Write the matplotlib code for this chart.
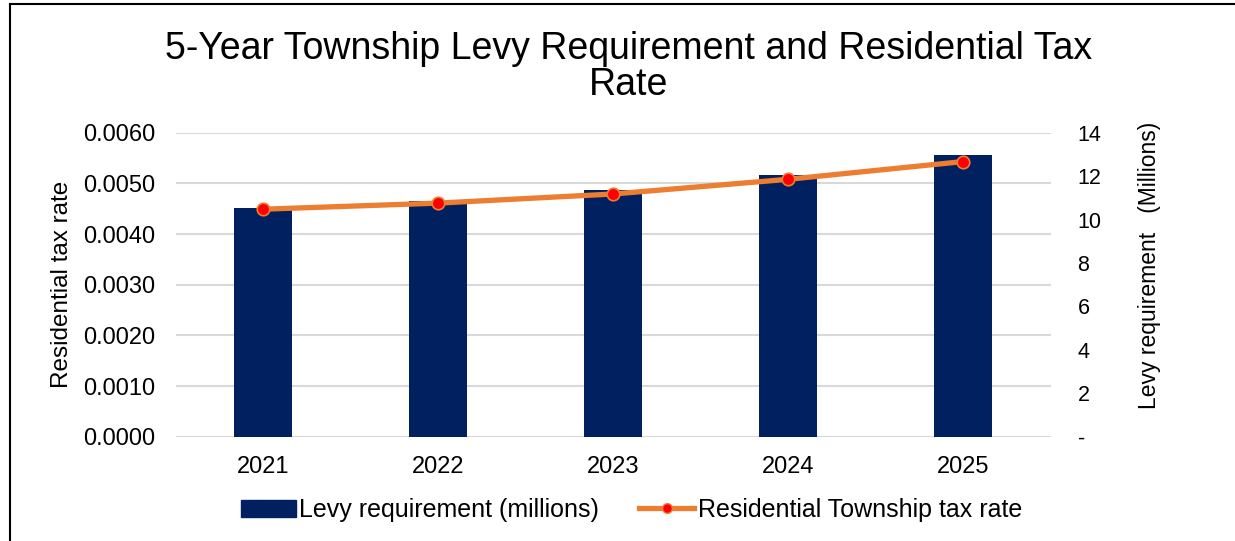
import matplotlib
matplotlib.use("Agg")
import matplotlib.pyplot as plt
from matplotlib.lines import Line2D
from matplotlib.patches import Patch
import numpy as np

plt.rcParams['font.family'] = ['Liberation Sans', 'DejaVu Sans']

years = ["2021", "2022", "2023", "2024", "2025"]
levy_millions = [10.52, 10.86, 11.36, 12.05, 12.99]
tax_rate = [0.00449, 0.00461, 0.00479, 0.00508, 0.00543]

left_ticks = [0.0, 0.001, 0.002, 0.003, 0.004, 0.005, 0.006]
left_ticklabels = ["0.0000", "0.0010", "0.0020", "0.0030", "0.0040", "0.0050", "0.0060"]
right_ticks = [0, 2, 4, 6, 8, 10, 12, 14]
right_ticklabels = ["-", "2", "4", "6", "8", "10", "12", "14"]

BAR = "#002060"
LINE = "#ED7D31"
GRID = "#D9D9D9"

W, H = 1235, 541
fig = plt.figure(figsize=(W / 100, H / 100), dpi=100)

pos = [175.5 / W, 1 - 436.7 / H, 875 / W, 304 / H]
x = np.arange(len(years))

# background axes: tax-rate scale, gridlines and left tick labels
ax = fig.add_axes(pos, zorder=0)
ax.set_xlim(-0.5, len(years) - 0.5)
ax.set_ylim(0, 0.006)
ax.set_yticks(left_ticks)
ax.set_yticklabels(left_ticklabels)
ax.set_xticks(x)
ax.set_xticklabels(years)
ax.yaxis.grid(True, color=GRID, linewidth=1.5)
ax.set_axisbelow(True)
for s in ax.spines.values():
    s.set_visible(False)
ax.tick_params(axis="both", length=0, labelsize=17, colors="black")
ax.tick_params(axis="y", pad=14.5)
ax.tick_params(axis="x", pad=14)
ax.set_ylabel("Residential tax rate", fontsize=17.5, labelpad=7)

# bars on the levy scale (right axis)
axb = ax.twinx()
axb.set_zorder(1)
axb.patch.set_visible(False)
axb.bar(x, levy_millions, width=0.33, color=BAR)
axb.set_ylim(0, 14)
axb.set_yticks(right_ticks)
axb.set_yticklabels(right_ticklabels, ha="left")
for s in axb.spines.values():
    s.set_visible(False)
axb.tick_params(axis="y", length=0, labelsize=15.5, pad=19.5)
axb.set_ylabel("Levy requirement   (Millions)", fontsize=16.5, labelpad=26)
axb.yaxis.label.set_y(0.565)

# tax-rate line drawn on top of the bars
axl = ax.twinx()
axl.set_zorder(2)
axl.patch.set_visible(False)
axl.set_ylim(ax.get_ylim())
axl.plot(x, tax_rate, color=LINE, linewidth=3.8, marker="o", markersize=9,
         markerfacecolor="#FF0000", markeredgecolor=LINE, markeredgewidth=1.2,
         solid_capstyle="butt")
axl.set_yticks([])
for s in axl.spines.values():
    s.set_visible(False)

fig.text(629 / W, 1 - 31 / H,
         "5-Year Township Levy Requirement and Residential Tax\nRate",
         ha="center", va="top", fontsize=27, linespacing=1.0)

handles = [
    Patch(facecolor=BAR, edgecolor=BAR),
    Line2D([0], [0], color=LINE, linewidth=3.8, marker="o", markersize=7,
           markerfacecolor="#FF0000", markeredgecolor=LINE),
]
fig.legend(handles, ["Levy requirement (millions)", "Residential Township tax rate"],
           loc="center", bbox_to_anchor=(631.5 / W, 1 - 510 / H), ncol=2,
           frameon=False, fontsize=18, handlelength=2.2, handletextpad=0.15,
           columnspacing=1.6)

# frame lines along the left and top edges
fig.add_artist(Line2D([10 / W, 10 / W], [0, 1 - 4 / H], transform=fig.transFigure,
                      color="black", linewidth=1.5))
fig.add_artist(Line2D([10 / W, 1], [1 - 4 / H, 1 - 4 / H], transform=fig.transFigure,
                      color="black", linewidth=1.5))

fig.savefig("out.png", dpi=100)
